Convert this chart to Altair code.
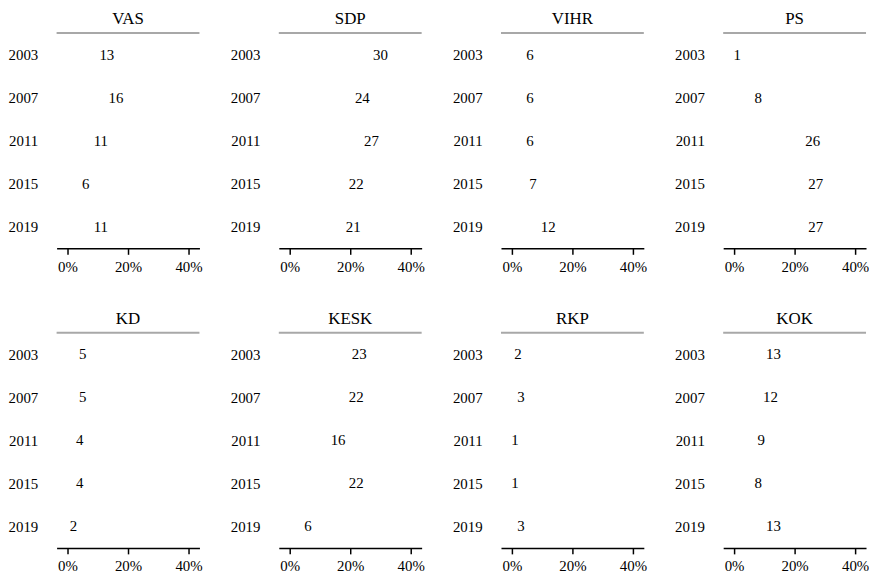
import altair as alt
import pandas as pd

FONT = "Liberation Serif"

parties = ["VAS", "SDP", "VIHR", "PS", "KD", "KESK", "RKP", "KOK"]
years = [2003, 2007, 2011, 2015, 2019]

VAS = [13, 16, 11, 6, 11]
SDP = [30, 24, 27, 22, 21]
VIHR = [6, 6, 6, 7, 12]
PS = [1, 8, 26, 27, 27]
KD = [5, 5, 4, 4, 2]
KESK = [23, 22, 16, 22, 6]
RKP = [2, 3, 1, 1, 3]
KOK = [13, 12, 9, 8, 13]

series = {"VAS": VAS, "SDP": SDP, "VIHR": VIHR, "PS": PS,
          "KD": KD, "KESK": KESK, "RKP": RKP, "KOK": KOK}

records = []
for p in parties:
    for y, v in zip(years, series[p]):
        records.append({"party": p, "year": y, "share": v})
df = pd.DataFrame(records)

W, H = 144, 217


def panel(p):
    base = alt.Chart(df).transform_filter(alt.datum.party == p)
    text = base.mark_text(font=FONT, fontSize=15, color="black").encode(
        x=alt.X("share:Q",
                scale=alt.Scale(domain=[-3.6, 43.6], nice=False, zero=False),
                axis=alt.Axis(values=[0, 20, 40], labelExpr="datum.value + '%'",
                              title=None, grid=False, tickSize=6, labelPadding=5,
                              domainWidth=1.5, tickWidth=1.5)),
        y=alt.Y("year:O", sort=years,
                axis=alt.Axis(title=None, domain=False, ticks=False, grid=False,
                              labelPadding=19, labelAlign="right")),
        text=alt.Text("share:Q"),
    )
    rule = alt.Chart(pd.DataFrame({"k": [0]})).mark_rule(
        color="#a8a8a8", strokeWidth=2
    ).encode(x=alt.value(0), x2=alt.value(W), y=alt.value(0))
    return alt.layer(rule, text).properties(
        width=W, height=H,
        title=alt.TitleParams(p, font=FONT, fontSize=17, fontWeight="normal",
                              color="black", anchor="middle", frame="group",
                              offset=4),
    )


chart = alt.concat(*[panel(p) for p in parties], columns=4,
                   spacing={"row": 85, "column": 80}, bounds="flush").properties(
    padding=0
).configure_view(stroke=None).configure_axis(
    labelFont=FONT, labelFontSize=15, labelColor="black",
    domainColor="black", tickColor="black"
)

chart.save("out.html", embed_options={"renderer": "svg", "actions": False})
